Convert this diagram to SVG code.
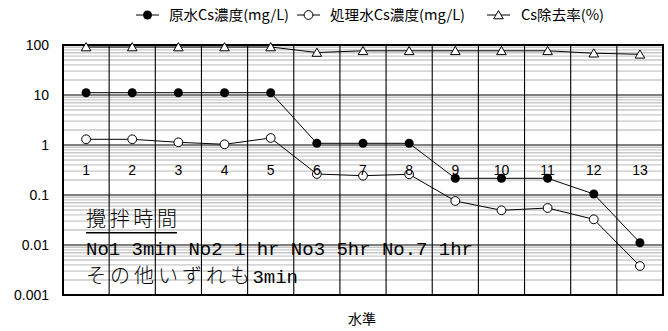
<svg xmlns="http://www.w3.org/2000/svg" width="668" height="331" viewBox="0 0 668 331">
<style>
.minor{stroke:#c8c8c8;stroke-width:1.4;fill:none}
.major{stroke:#000;stroke-width:1.1;fill:none}
.vline{stroke:#000;stroke-width:1.1;fill:none}
.frame{stroke:#000;stroke-width:2;fill:none}
.ser{stroke:#000;stroke-width:1;fill:none}
.fdot{fill:#000}
.odot{fill:#fff;stroke:#000;stroke-width:1}
.tri{fill:#fff;stroke:#000;stroke-width:1}
.ylab{font-family:"Liberation Sans",Arial,sans-serif;font-size:14px;fill:#000;text-anchor:end}
.xlab{font-family:"Liberation Sans",Arial,sans-serif;font-size:14px;fill:#000;text-anchor:middle}
.leg{font-family:"Noto Sans CJK JP","Liberation Sans",sans-serif;font-size:14px;fill:#000}
.note{font-family:"Liberation Mono","Noto Sans CJK JP",monospace;font-size:19px;fill:#000}
.notej{font-family:"Noto Sans CJK JP","Liberation Serif",serif;font-size:20px;fill:#000;font-weight:300}
</style>
<defs>
<circle id="mf" r="4.5" class="fdot"/>
<circle id="mo" r="4.4" class="odot"/>
<polygon id="mt" points="0,-4.4 4.8,3.8 -4.8,3.8" class="tri"/>
<g id="minor-decade">
<line x1="63" x2="663" y1="2.29" y2="2.29"/>
<line x1="63" x2="663" y1="4.85" y2="4.85"/>
<line x1="63" x2="663" y1="7.75" y2="7.75"/>
<line x1="63" x2="663" y1="11.09" y2="11.09"/>
<line x1="63" x2="663" y1="15.05" y2="15.05"/>
<line x1="63" x2="663" y1="19.9" y2="19.9"/>
<line x1="63" x2="663" y1="26.14" y2="26.14"/>
<line x1="63" x2="663" y1="34.95" y2="34.95"/>
</g>
</defs>
<rect x="0" y="0" width="668" height="331" fill="#fff"/>

<g id="plot-grid">
<g class="minor">
<use href="#minor-decade" y="45"/>
<use href="#minor-decade" y="95"/>
<use href="#minor-decade" y="145"/>
<use href="#minor-decade" y="195"/>
<use href="#minor-decade" y="245"/>
</g>
<g class="major">
<line x1="63" x2="663" y1="95" y2="95"/>
<line x1="63" x2="663" y1="145" y2="145"/>
<line x1="63" x2="663" y1="195" y2="195"/>
<line x1="63" x2="663" y1="245" y2="245"/>
</g>
<g class="vline">
<line x1="109.15" x2="109.15" y1="45" y2="295"/>
<line x1="155.31" x2="155.31" y1="45" y2="295"/>
<line x1="201.46" x2="201.46" y1="45" y2="295"/>
<line x1="247.62" x2="247.62" y1="45" y2="295"/>
<line x1="293.77" x2="293.77" y1="45" y2="295"/>
<line x1="339.92" x2="339.92" y1="45" y2="295"/>
<line x1="386.08" x2="386.08" y1="45" y2="295"/>
<line x1="432.23" x2="432.23" y1="45" y2="295"/>
<line x1="478.38" x2="478.38" y1="45" y2="295"/>
<line x1="524.54" x2="524.54" y1="45" y2="295"/>
<line x1="570.69" x2="570.69" y1="45" y2="295"/>
<line x1="616.85" x2="616.85" y1="45" y2="295"/>
</g>
<rect x="63" y="45" width="600" height="250" class="frame"/>
</g>

<g id="y-axis-labels">
<text class="ylab" x="49" y="50">100</text>
<text class="ylab" x="49" y="100">10</text>
<text class="ylab" x="49" y="150">1</text>
<text class="ylab" x="49" y="200">0.1</text>
<text class="ylab" x="49" y="250">0.01</text>
<text class="ylab" x="49" y="300">0.001</text>
</g>

<g id="connectors">
<polyline class="ser" points="86.08,92.7 132.23,92.7 178.38,92.7 224.54,92.7 270.69,92.7 316.85,143.3 363,143.3 409.15,143.3 455.31,178.3 501.46,178.3 547.62,178.3 593.77,194 639.92,242.7"/>
<polyline class="ser" points="86.08,139.3 132.23,139.3 178.38,142.3 224.54,144.3 270.69,138 316.85,174 363,175.7 409.15,174.3 455.31,201 501.46,210.3 547.62,208 593.77,219.3 639.92,266"/>
<polyline class="ser" points="86.08,47 132.23,47 178.38,47 224.54,47 270.69,47 316.85,52.5 363,50.8 409.15,50.8 455.31,50.8 501.46,50.8 547.62,50.8 593.77,53.2 639.92,54.3"/>
</g>

<g id="series-raw">
<use href="#mf" x="86.08" y="92.7"/>
<use href="#mf" x="132.23" y="92.7"/>
<use href="#mf" x="178.38" y="92.7"/>
<use href="#mf" x="224.54" y="92.7"/>
<use href="#mf" x="270.69" y="92.7"/>
<use href="#mf" x="316.85" y="143.3"/>
<use href="#mf" x="363" y="143.3"/>
<use href="#mf" x="409.15" y="143.3"/>
<use href="#mf" x="455.31" y="178.3"/>
<use href="#mf" x="501.46" y="178.3"/>
<use href="#mf" x="547.62" y="178.3"/>
<use href="#mf" x="593.77" y="194"/>
<use href="#mf" x="639.92" y="242.7"/>
</g>
<g id="series-treated">
<use href="#mo" x="86.08" y="139.3"/>
<use href="#mo" x="132.23" y="139.3"/>
<use href="#mo" x="178.38" y="142.3"/>
<use href="#mo" x="224.54" y="144.3"/>
<use href="#mo" x="270.69" y="138"/>
<use href="#mo" x="316.85" y="174"/>
<use href="#mo" x="363" y="175.7"/>
<use href="#mo" x="409.15" y="174.3"/>
<use href="#mo" x="455.31" y="201"/>
<use href="#mo" x="501.46" y="210.3"/>
<use href="#mo" x="547.62" y="208"/>
<use href="#mo" x="593.77" y="219.3"/>
<use href="#mo" x="639.92" y="266"/>
</g>
<g id="series-removal">
<use href="#mt" x="86.08" y="47"/>
<use href="#mt" x="132.23" y="47"/>
<use href="#mt" x="178.38" y="47"/>
<use href="#mt" x="224.54" y="47"/>
<use href="#mt" x="270.69" y="47"/>
<use href="#mt" x="316.85" y="52.5"/>
<use href="#mt" x="363" y="50.8"/>
<use href="#mt" x="409.15" y="50.8"/>
<use href="#mt" x="455.31" y="50.8"/>
<use href="#mt" x="501.46" y="50.8"/>
<use href="#mt" x="547.62" y="50.8"/>
<use href="#mt" x="593.77" y="53.2"/>
<use href="#mt" x="639.92" y="54.3"/>
</g>

<g id="category-labels">
<text class="xlab" x="86.08" y="175">1</text>
<text class="xlab" x="132.23" y="175">2</text>
<text class="xlab" x="178.38" y="175">3</text>
<text class="xlab" x="224.54" y="175">4</text>
<text class="xlab" x="270.69" y="175">5</text>
<text class="xlab" x="316.85" y="175">6</text>
<text class="xlab" x="363" y="175">7</text>
<text class="xlab" x="409.15" y="175">8</text>
<text class="xlab" x="455.31" y="175">9</text>
<text class="xlab" x="501.46" y="175">10</text>
<text class="xlab" x="547.62" y="175">11</text>
<text class="xlab" x="593.77" y="175">12</text>
<text class="xlab" x="639.92" y="175">13</text>
</g>

<g id="note-box">
<text class="notej" x="86" y="226" textLength="91" lengthAdjust="spacing">攪拌時間</text>
<line x1="86" x2="177" y1="232.7" y2="232.7" stroke="#000" stroke-width="1.6"/>
<text class="note" x="86" y="255" textLength="387" lengthAdjust="spacing">No1 3min No2 1 hr No3 5hr No.7 1hr</text>
<text class="notej" x="86" y="283" textLength="164" lengthAdjust="spacing">その他いずれも</text>
<text class="note" x="252.4" y="283">3min</text>
</g>

<g id="x-axis-title">
<text class="leg" x="362" y="324" text-anchor="middle">水準</text>
</g>

<g id="legend">
<line x1="136" x2="159" y1="15" y2="15" class="ser"/>
<use href="#mf" x="147.5" y="15"/>
<text class="leg" x="169" y="20" textLength="120" lengthAdjust="spacingAndGlyphs">原水Cs濃度(mg/L)</text>
<line x1="297" x2="320" y1="15" y2="15" class="ser"/>
<use href="#mo" x="308.5" y="15"/>
<text class="leg" x="330" y="20" textLength="135" lengthAdjust="spacingAndGlyphs">処理水Cs濃度(mg/L)</text>
<line x1="487" x2="510" y1="15" y2="15" class="ser"/>
<use href="#mt" x="498.5" y="15"/>
<text class="leg" x="521" y="20" textLength="83" lengthAdjust="spacingAndGlyphs">Cs除去率(%)</text>
</g>
</svg>
